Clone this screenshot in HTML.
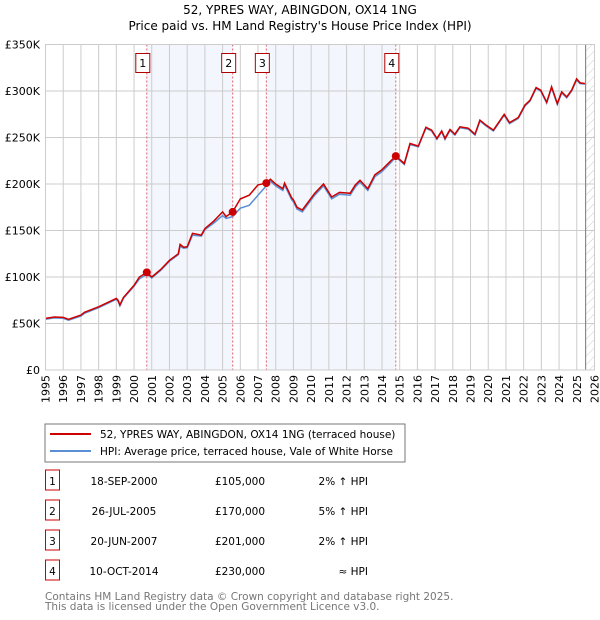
<!DOCTYPE html>
<html><head><meta charset="utf-8"><style>
body{margin:0;background:#fff;font-family:"Liberation Sans","DejaVu Sans",sans-serif;}
svg{display:block}
text{font-family:"DejaVu Sans","Liberation Sans",sans-serif;}
</style></head><body>
<svg width="600" height="620" viewBox="0 0 600 620" id="svg">
<text x="300" y="14" text-anchor="middle" font-size="12" fill="#000">52, YPRES WAY, ABINGDON, OX14 1NG</text>
<text x="300" y="30" text-anchor="middle" font-size="12" fill="#000">Price paid vs. HM Land Registry's House Price Index (HPI)</text>
<defs><pattern id="hatch" width="6" height="6" patternUnits="userSpaceOnUse" patternTransform="rotate(45)"><line x1="0" y1="0" x2="0" y2="6" stroke="#ccc" stroke-width="1"/></pattern></defs>
<g id="plot"></g>
<rect x="45" y="424" width="360" height="38" fill="#fff" stroke="#777"/>
<line x1="50" y1="434" x2="91" y2="434" stroke="#cc0000" stroke-width="2"/>
<text x="100" y="438" font-size="10.5">52, YPRES WAY, ABINGDON, OX14 1NG (terraced house)</text>
<line x1="50" y1="451" x2="91" y2="451" stroke="#5b8fd4" stroke-width="2"/>
<text x="100" y="455" font-size="10.5">HPI: Average price, terraced house, Vale of White Horse</text>
<g id="table" font-size="10.5"></g>
<text x="45" y="600" font-size="10.5" fill="#777">Contains HM Land Registry data © Crown copyright and database right 2025.</text>
<text x="45" y="610" font-size="10.5" fill="#777">This data is licensed under the Open Government Licence v3.0.</text>
</svg>
<script>
const years=[1995,1995.5,1996,1996.3,1997,1997.2,1998,1999,1999.1,1999.2,1999.4,2000,2000.3,2000.72,2001,2001.5,2002,2002.5,2002.6,2002.8,2003,2003.3,2003.8,2004,2004.5,2005,2005.2,2005.57,2006,2006.5,2007,2007.47,2007.7,2008,2008.4,2008.5,2008.9,2009,2009.2,2009.5,2010.2,2010.7,2011.16,2011.6,2012.2,2012.5,2012.76,2013.2,2013.6,2013.98,2014.45,2014.78,2015.26,2015.58,2016.05,2016.48,2016.8,2017.1,2017.37,2017.56,2017.84,2018.12,2018.4,2018.87,2019.25,2019.53,2019.9,2020.29,2020.9,2021.2,2021.7,2022.07,2022.36,2022.7,2022.96,2023.3,2023.58,2023.9,2024.15,2024.43,2024.71,2024.99,2025.18,2025.46];
const priceValues=[55.5,57,56.6,54.5,59,62,68,77,75,70,78,91,100,105,100,108,118,125,135,132,132.5,147,145,152,160,170,165,170,184,188,199,201,205,200,195,201,185,183,175,172,190,200,186,191,190,199,204,195,210,215,224,230,222,243.6,240.7,261,258,249,257,249,258.6,253.6,261.5,260,253.6,268.7,263,258,275,266,271.5,284.8,290,303.8,300.9,288,304.5,286.6,299,293.7,301,313,308.8,308];
const hpiValues=[54.5,56,55.6,53.5,58,61,67,76,74,69,77,90,98,103,99,107,117,124,133,131,131.5,145,144,151,158,166,163,165,174,177,188,198,203,198,193,199,183,181,173,170,188,198,184,189,188,197,202,193,208,213,222,229,221,242.5,240,260,257,248,256,248,257.6,252.6,260.5,259,252.6,267.7,262,257,274,265,270.5,283.8,289,302.8,299.9,287,303.5,285.6,298,292.7,300,312,308,307.5];
const sales=[2000.72,2005.57,2007.47,2014.78];
const salePrices=[105,170,201,230];
const saleDates=["18-SEP-2000","26-JUL-2005","20-JUN-2007","10-OCT-2014"];
const saleAmounts=["£105,000","£170,000","£201,000","£230,000"];
const saleHpi=["2% \u2191 HPI","5% \u2191 HPI","2% \u2191 HPI","\u2248 HPI"];
const yTicks=[0,50,100,150,200,250,300,350];
const yLabels=["£0","£50K","£100K","£150K","£200K","£250K","£300K","£350K"];
const xTicks=[1995,1996,1997,1998,1999,2000,2001,2002,2003,2004,2005,2006,2007,2008,2009,2010,2011,2012,2013,2014,2015,2016,2017,2018,2019,2020,2021,2022,2023,2024,2025,2026];

const X0=45.5,X1=594.5,Y0=370,Y1=44.5;
const xs=y=>X0+(y-1995)/31*(X1-X0);
const ys=v=>Y0-v/350*(Y0-Y1);
const NS="http://www.w3.org/2000/svg";
const g=document.getElementById('plot');
function mk(t,a,p){const e=document.createElementNS(NS,t);for(const k in a)e.setAttribute(k,a[k]);(p||g).appendChild(e);return e;}
let r;
r=mk('rect',{x:xs(sales[0]),y:Y1,width:xs(sales[1])-xs(sales[0]),height:Y0-Y1,fill:'#f3f6fd'});


r=mk('rect',{x:xs(sales[2]),y:Y1,width:xs(sales[3])-xs(sales[2]),height:Y0-Y1,fill:'#f3f6fd'});


r=mk('rect',{x:xs(2025.5),y:Y1,width:X1-xs(2025.5),height:Y0-Y1,fill:'url(#hatch)'});


xTicks.forEach(t=>{const l=mk('line',{x1:xs(t),x2:xs(t),y1:Y1,y2:Y0,stroke:'#ccc','stroke-width':1});


const tx=mk('text',{x:0,y:0,'font-size':11,'text-anchor':'end',transform:`translate(${xs(t)+4},${Y0+5}) rotate(-90)`});tx.textContent=t;

});
yTicks.forEach((t,i)=>{const l=mk('line',{x1:X0,x2:X1,y1:ys(t),y2:ys(t),stroke:'#ccc','stroke-width':1});


const tx=mk('text',{x:40,y:ys(t)+4,'font-size':11,'text-anchor':'end'});tx.textContent=yLabels[i];

});
r=mk('line',{x1:xs(2025.5),x2:xs(2025.5),y1:Y1,y2:Y0,stroke:'#777','stroke-width':1});


const path=(vals)=>vals.map((v,i)=>(i?'L':'M')+xs(years[i]).toFixed(1)+','+ys(v).toFixed(1)).join('');
r=mk('path',{d:path(hpiValues),fill:'none',stroke:'#5b8fd4','stroke-width':1.5});


r=mk('path',{d:path(priceValues),fill:'none',stroke:'#cc0000','stroke-width':1.5});


sales.forEach((s,i)=>{
 const l=mk('line',{x1:xs(s),x2:xs(s),y1:Y1,y2:Y0,stroke:'#e06070','stroke-width':1,'stroke-dasharray':'2,2'});
 
 
 const c=mk('circle',{cx:xs(s),cy:ys(salePrices[i]),r:4,fill:'#cc0000'});
 
 
 const b=mk('rect',{x:xs(s)-11,y:53.5,width:14,height:19,fill:'#fff',stroke:'#b00000'});
 
 
 const t=mk('text',{x:xs(s)-4,y:67,'font-size':11,'text-anchor':'middle'});t.textContent=i+1;
 
 
});
r=mk('rect',{x:X0,y:Y1,width:X1-X0,height:Y0-Y1,fill:'none',stroke:'#ccc'});


const tb=document.getElementById('table');
sales.forEach((s,i)=>{
 const y=483+i*30;
 const b=mk('rect',{x:45.5,y:y-13,width:14,height:20,fill:'#fff',stroke:'#cc0000'},tb);
 
 
 let t=mk('text',{x:52.5,y:y+2,'text-anchor':'middle'},tb);t.textContent=i+1;
 
 
 t=mk('text',{x:124,y:y+2,'text-anchor':'middle'},tb);t.textContent=saleDates[i];
 
 
 t=mk('text',{x:240,y:y+2,'text-anchor':'middle'},tb);t.textContent=saleAmounts[i];
 
 
 t=mk('text',{x:368,y:y+2,'text-anchor':'end'},tb);t.textContent=saleHpi[i];
 
 
});
</script>
</body></html>
